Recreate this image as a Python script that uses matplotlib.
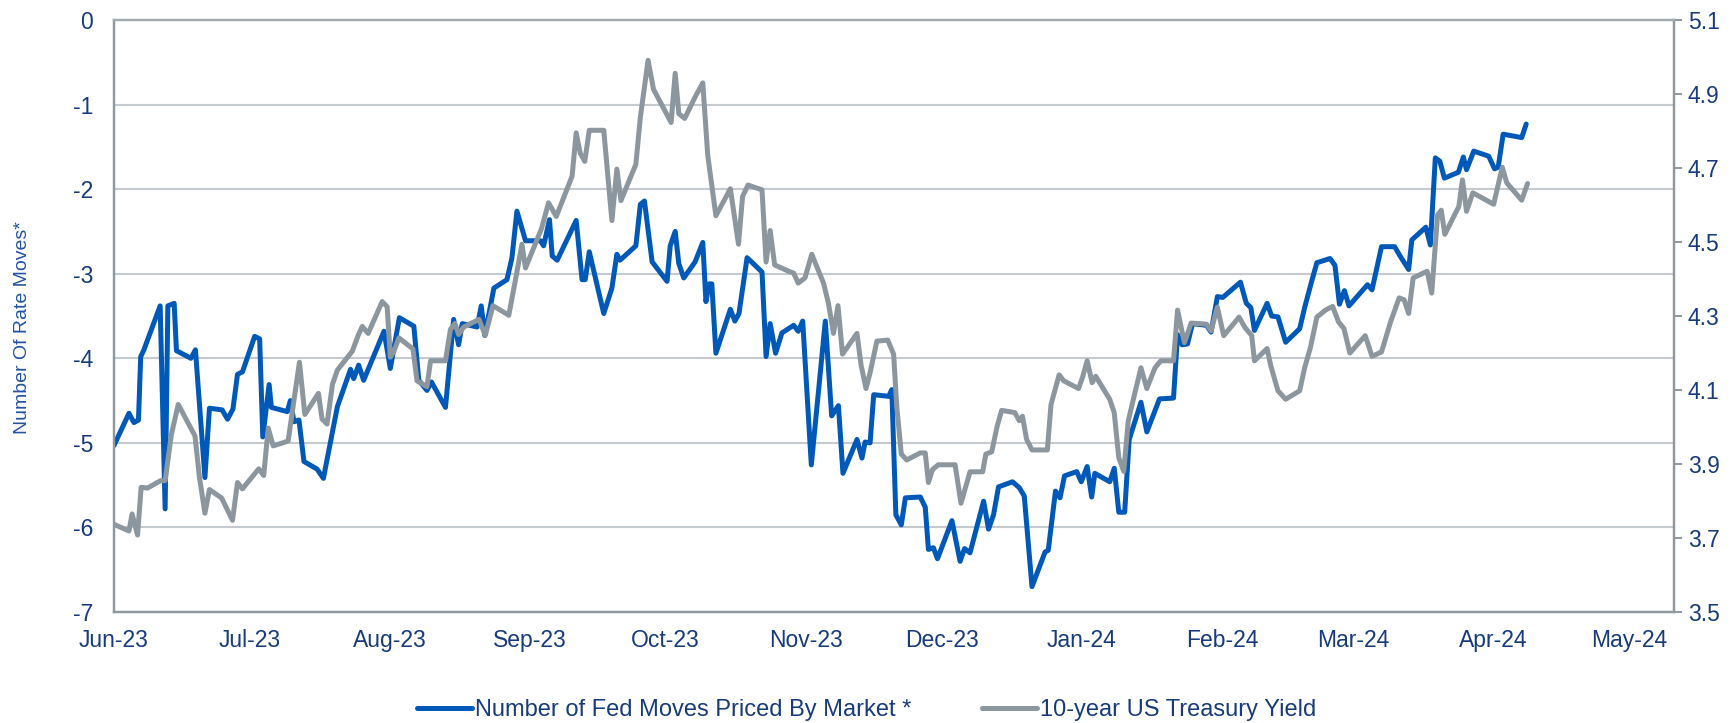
import pandas as pd
import matplotlib.pyplot as plt
import matplotlib.dates as mdates

plt.rcParams['font.family'] = ['Liberation Sans', 'DejaVu Sans']
plt.rcParams['axes.unicode_minus'] = False

# data: days after 2023-06-01 and values
fed_day = [0, 3.3, 4.4, 5.4, 5.9, 6.6, 10.2, 11.3, 11.9, 13.3, 13.8, 17.0, 18.0, 20.1, 21.1,
           23.9, 25.1, 26.3, 27.3, 28.4, 31.1, 32.2, 32.9, 34.3, 34.8, 38.3, 39.0, 39.8, 40.9,
           42.0, 44.9, 46.3, 49.4, 52.3, 53.0, 54.1, 55.2, 59.7, 61.1, 63.1, 66.3, 67.4, 69.2,
           70.2, 73.3, 75.1, 76.2, 77.0, 80.3, 81.2, 82.0, 84.0, 86.9, 88.0, 89.1, 91.0, 94.3,
           95.0, 96.3, 96.9, 98.0, 102.2, 103.5, 104.2, 105.1, 108.3, 110.1, 111.2, 111.9,
           115.4, 116.4, 117.3, 119.0, 122.3, 123.0, 124.1, 124.9, 126.0, 128.5, 130.2, 130.9,
           131.6, 132.2, 133.1, 136.3, 137.3, 138.2, 140.0, 143.3, 144.2, 145.1, 146.3, 147.7,
           150.3, 151.3, 152.3, 154.2, 157.3, 158.7, 160.2, 161.2, 164.3, 165.4, 166.1, 167.2,
           168.0, 171.3, 172.0, 172.9, 174.1, 175.0, 178.3, 179.4, 180.1, 181.2, 182.1, 185.3,
           187.1, 188.1, 189.3, 192.3, 193.4, 194.5, 195.6, 198.7, 200.2, 201.3, 203.0, 205.9,
           206.6, 208.2, 209.2, 210.2, 212.9, 213.9, 215.2, 216.2, 216.9, 220.2, 221.2, 222.2,
           223.5, 224.5, 227.1, 228.4, 231.2, 234.3, 235.2, 236.2, 237.4, 238.5, 241.6, 242.6,
           244.0, 245.2, 249.1, 250.4, 251.4, 252.2, 255.0, 256.0, 257.4, 259.1, 262.2, 263.3,
           264.8, 266.0, 268.9, 270.0, 271.0, 272.1, 273.1, 277.2, 278.2, 280.3, 283.2, 284.4,
           286.3, 287.0, 290.1, 291.1, 292.2, 293.2, 294.2, 297.3, 298.4, 299.1, 300.7, 304.0,
           305.3, 306.1, 307.2, 311.3, 312.3]
fed_moves = [-5.03, -4.65, -4.76, -4.73, -3.98, -3.90, -3.38, -5.78, -3.38, -3.35, -3.91, -4.00,
             -3.90, -5.41, -4.59, -4.61, -4.72, -4.60, -4.19, -4.16, -3.74, -3.77, -4.93, -4.31,
             -4.58, -4.63, -4.50, -4.75, -4.73, -5.22, -5.31, -5.42, -4.57, -4.13, -4.24, -4.08,
             -4.26, -3.68, -4.12, -3.52, -3.62, -4.26, -4.38, -4.28, -4.58, -3.54, -3.84, -3.59,
             -3.63, -3.38, -3.73, -3.17, -3.07, -2.81, -2.26, -2.61, -2.61, -2.67, -2.36, -2.79,
             -2.84, -2.37, -3.07, -3.07, -2.74, -3.47, -3.17, -2.77, -2.84, -2.67, -2.18, -2.14,
             -2.86, -3.09, -2.67, -2.50, -2.88, -3.05, -2.86, -2.63, -3.33, -3.12, -3.12, -3.94,
             -3.42, -3.56, -3.47, -2.81, -2.98, -3.98, -3.59, -3.94, -3.70, -3.61, -3.68, -3.56,
             -5.26, -3.56, -4.68, -4.56, -5.36, -4.96, -5.18, -4.99, -5.00, -4.43, -4.45, -4.37,
             -5.85, -5.97, -5.65, -5.64, -5.76, -6.26, -6.24, -6.37, -5.92, -6.40, -6.25, -6.30,
             -5.69, -6.02, -5.85, -5.52, -5.46, -5.53, -5.63, -6.70, -6.29, -6.27, -5.57, -5.65,
             -5.39, -5.34, -5.46, -5.28, -5.64, -5.36, -5.46, -5.30, -5.82, -5.82, -4.96, -4.52,
             -4.87, -4.48, -4.47, -3.72, -3.84, -3.83, -3.59, -3.61, -3.69, -3.27, -3.28, -3.10,
             -3.35, -3.40, -3.67, -3.35, -3.50, -3.51, -3.81, -3.65, -3.40, -3.10, -2.87, -2.82,
             -2.90, -3.36, -3.20, -3.38, -3.13, -3.19, -2.68, -2.68, -2.79, -2.95, -2.60, -2.45,
             -2.66, -1.63, -1.67, -1.87, -1.80, -1.62, -1.77, -1.55, -1.61, -1.76, -1.74, -1.35,
             -1.39, -1.23]

ust_day = [0, 3.3, 4.0, 5.2, 6.0, 7.4, 10.3, 11.3, 12.7, 14.2, 17.9, 18.9, 20.1, 21.1, 23.8,
           25.0, 26.2, 27.3, 28.4, 32.0, 33.1, 34.1, 35.2, 38.5, 41.0, 42.2, 45.2, 46.0, 47.1,
           48.3, 49.4, 52.7, 54.0, 54.9, 56.2, 59.3, 60.4, 61.1, 61.9, 63.0, 66.1, 67.0, 69.2,
           70.0, 73.3, 74.4, 75.4, 76.2, 77.3, 80.7, 82.1, 83.8, 87.3, 89.1, 90.2, 91.0, 94.5,
           96.1, 97.8, 101.3, 102.2, 103.1, 104.1, 105.1, 108.3, 110.1, 111.2, 112.1, 115.4,
           116.4, 118.1, 119.3, 123.2, 124.1, 124.9, 126.2, 128.5, 130.2, 131.3, 133.1, 136.3,
           138.1, 139.0, 140.2, 143.3, 144.2, 145.1, 146.1, 149.2, 150.3, 151.3, 152.8, 154.3,
           156.9, 158.0, 159.1, 160.1, 161.1, 164.3, 165.2, 166.3, 167.2, 168.7, 171.1, 172.4,
           173.1, 174.1, 175.3, 178.3, 179.4, 180.1, 181.0, 182.3, 186.0, 187.3, 189.3, 192.1,
           192.8, 194.1, 195.3, 196.3, 199.2, 200.2, 200.9, 201.8, 203.0, 206.4, 207.2, 209.0,
           210.0, 213.3, 214.2, 215.2, 216.3, 217.1, 220.2, 221.2, 222.2, 223.3, 224.3, 225.5,
           227.1, 228.4, 230.2, 231.5, 234.3, 235.2, 236.7, 238.2, 241.6, 242.6, 244.0, 245.4,
           248.8, 250.1, 251.6, 252.2, 255.0, 255.8, 257.4, 259.1, 262.2, 263.3, 264.6, 266.0,
           267.9, 269.5, 270.8, 272.0, 273.3, 276.7, 278.2, 280.3, 282.3, 284.2, 285.3, 286.3,
           287.3, 290.4, 291.4, 292.7, 293.5, 294.3, 297.4, 298.2, 299.1, 300.5, 305.1, 307.0,
           308.0, 311.3, 312.6]
ust_yield = [3.737, 3.719, 3.765, 3.708, 3.837, 3.835, 3.855, 3.855, 3.981, 4.061, 3.976, 3.863,
             3.767, 3.831, 3.808, 3.778, 3.748, 3.850, 3.833, 3.887, 3.869, 3.997, 3.949, 3.962,
             4.175, 4.034, 4.091, 4.022, 4.008, 4.115, 4.154, 4.205, 4.248, 4.272, 4.253, 4.339,
             4.325, 4.189, 4.205, 4.241, 4.211, 4.125, 4.109, 4.179, 4.179, 4.264, 4.280, 4.250,
             4.270, 4.291, 4.248, 4.328, 4.302, 4.419, 4.494, 4.430, 4.535, 4.606, 4.569, 4.678,
             4.795, 4.740, 4.718, 4.802, 4.802, 4.558, 4.697, 4.612, 4.710, 4.838, 4.991, 4.913,
             4.823, 4.956, 4.847, 4.834, 4.892, 4.930, 4.734, 4.571, 4.644, 4.494, 4.623, 4.654,
             4.641, 4.446, 4.531, 4.438, 4.421, 4.416, 4.389, 4.403, 4.467, 4.389, 4.334, 4.253,
             4.328, 4.197, 4.253, 4.168, 4.104, 4.147, 4.232, 4.235, 4.197, 4.056, 3.927, 3.911,
             3.930, 3.930, 3.850, 3.885, 3.898, 3.898, 3.794, 3.879, 3.879, 3.927, 3.933, 4.002,
             4.045, 4.039, 4.017, 4.029, 3.967, 3.938, 3.938, 4.060, 4.141, 4.125, 4.104, 4.135,
             4.179, 4.120, 4.137, 4.075, 4.038, 3.917, 3.880, 4.017, 4.079, 4.160, 4.104, 4.160,
             4.179, 4.179, 4.316, 4.228, 4.281, 4.278, 4.260, 4.324, 4.247, 4.297, 4.269, 4.247,
             4.179, 4.212, 4.166, 4.098, 4.075, 4.098, 4.160, 4.216, 4.297, 4.316, 4.326, 4.284,
             4.266, 4.200, 4.247, 4.191, 4.203, 4.284, 4.349, 4.344, 4.307, 4.403, 4.421, 4.362,
             4.573, 4.586, 4.521, 4.596, 4.668, 4.583, 4.633, 4.602, 4.702, 4.660, 4.613, 4.658]

left_ticks = [-7, -6, -5, -4, -3, -2, -1, 0]
right_ticks = [3.5, 3.7, 3.9, 4.1, 4.3, 4.5, 4.7, 4.9, 5.1]

BLUE = '#0059b9'
GRAY = '#8c969e'
NAVY = '#173b7c'
SPINE = '#8f989f'

start = pd.Timestamp('2023-06-01')
fed_dates = start + pd.to_timedelta(fed_day, unit='D')
ust_dates = start + pd.to_timedelta(ust_day, unit='D')

fig = plt.figure(figsize=(17.33, 7.23), dpi=100)
ax = fig.add_axes([0.0658, 0.1535, 0.9002, 0.8188])
ax2 = ax.twinx()

l1, = ax.plot(fed_dates, fed_moves, color=BLUE, lw=3.6, solid_joinstyle='round',
              solid_capstyle='round', label='Number of Fed Moves Priced By Market *')
l2, = ax2.plot(ust_dates, ust_yield, color=GRAY, lw=3.6, solid_joinstyle='round',
               solid_capstyle='round', label='10-year US Treasury Yield')

ax.set_ylim(-7, 0)
ax.set_yticks(left_ticks)
ax2.set_ylim(3.5, 5.1)
ax2.set_yticks(right_ticks)
ax2.set_yticklabels([f'{t:.1f}' for t in right_ticks])

ax.set_xlim(start, pd.Timestamp('2024-05-11'))
ax.xaxis.set_major_locator(mdates.MonthLocator())
ax.xaxis.set_major_formatter(mdates.DateFormatter('%b-%y'))

ax.grid(axis='y', color='#c4cacf', lw=1.5)
ax.set_axisbelow(True)

for a in (ax, ax2):
    for s in a.spines.values():
        s.set_color(SPINE)
        s.set_linewidth(1.6)
    a.spines['top'].set_color('#a3abb1')

ax.tick_params(axis='y', length=0, pad=15, labelsize=16.5, labelcolor=NAVY)
ax.tick_params(axis='x', length=0, pad=12, labelsize=16.5, labelcolor=NAVY)
ax2.tick_params(axis='y', length=6, width=1.4, color=SPINE, pad=4, labelsize=16.5,
                labelcolor=NAVY)

ax.set_ylabel('Number Of Rate Moves*', fontsize=14, color='#2352a3')
ax.yaxis.set_label_coords(-0.053, 0.48)

fig.legend(handles=[l1, l2], loc='center', bbox_to_anchor=(0.5, 0.018), ncol=2,
           frameon=False, fontsize=17, handlelength=2.35, handletextpad=0.1,
           columnspacing=3.0, labelcolor=NAVY)

fig.savefig('out.png', dpi=100)
